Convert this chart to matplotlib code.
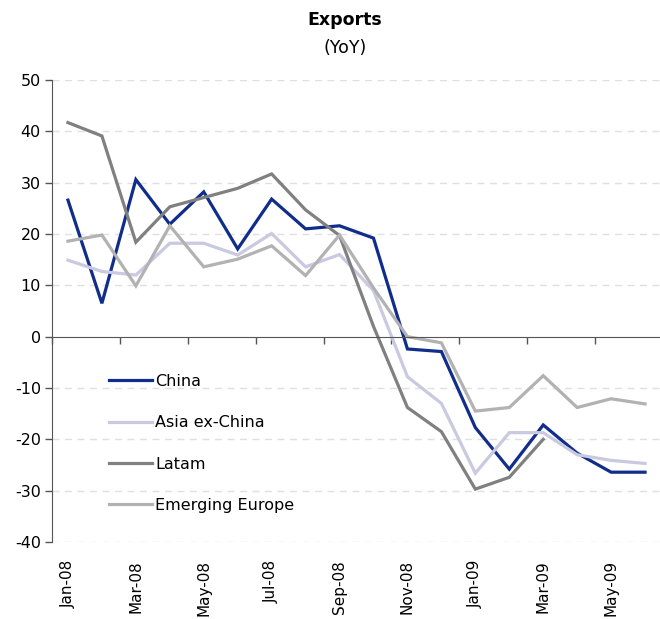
import numpy as np
import matplotlib
matplotlib.use("Agg")
import matplotlib.pyplot as plt

months = ["Jan-08", "Feb-08", "Mar-08", "Apr-08", "May-08", "Jun-08",
          "Jul-08", "Aug-08", "Sep-08", "Oct-08", "Nov-08", "Dec-08",
          "Jan-09", "Feb-09", "Mar-09", "Apr-09", "May-09", "Jun-09"]

china = [26.6, 6.5, 30.6, 21.9, 28.2, 17.1, 26.8, 21.0, 21.6, 19.2,
         -2.4, -2.9, -17.7, -25.8, -17.2, -22.7, -26.4, -26.4]
asia_ex_china = [14.9, 12.7, 12.0, 18.2, 18.2, 15.9, 20.1, 13.6, 16.0, 9.0,
                 -7.8, -13.0, -26.6, -18.7, -18.7, -23.0, -24.1, -24.7]
latam = [41.7, 39.1, 18.4, 25.3, 27.1, 28.9, 31.7, 24.7, 19.7, 2.0,
         -13.8, -18.5, -29.7, -27.4, -20.0, np.nan, np.nan, np.nan]
emerging_europe = [18.6, 19.8, 9.9, 21.6, 13.6, 15.1, 17.7, 11.9, 19.8, 9.5,
                   0.0, -1.2, -14.5, -13.8, -7.6, -13.8, -12.1, -13.1]

series = [
    ("China", china, "#112d8c"),
    ("Asia ex-China", asia_ex_china, "#c9c9e1"),
    ("Latam", latam, "#808080"),
    ("Emerging Europe", emerging_europe, "#b2b2b2"),
]

plt.rcParams["font.family"] = ["DejaVu Sans"]
plt.rcParams["axes.unicode_minus"] = False

W, H = 660, 619
fig = plt.figure(figsize=(W / 100, H / 100), dpi=100)
# axes box in pixels: left 52, right 660, top 80, bottom 542
ax = fig.add_axes([52 / W, (H - 542) / H, (660 - 52) / W, (542 - 80) / H])

x = np.arange(len(months))
for name, vals, color in series:
    ax.plot(x, vals, color=color, lw=2.3, label=name, solid_joinstyle="miter")

ax.set_xlim(-0.47, 17.44)
ax.set_ylim(-40, 50)
ax.set_yticks(np.arange(-40, 51, 10))
ax.tick_params(axis="y", direction="out", length=5, width=1, color="#555555",
               labelsize=11.5, pad=3)
for v in np.arange(-40, 51, 10):
    if v != 0:
        ax.axhline(v, color="#e0e0e0", lw=1, dashes=(5, 4), zorder=0)

for s in ["top", "right"]:
    ax.spines[s].set_visible(False)
ax.spines["left"].set_color("#555555")
ax.spines["bottom"].set_position(("data", 0))
ax.spines["bottom"].set_color("#555555")
ax.set_xticks(np.arange(-0.47, 17.5, 2))
ax.set_xticklabels([])
ax.tick_params(axis="x", direction="out", length=5, width=1, color="#555555")

sec = ax.secondary_xaxis("bottom")
sec.set_xticks(x[::2])
sec.set_xticklabels(months[::2], rotation=90, fontsize=11)
sec.tick_params(length=0, pad=13)
sec.spines["bottom"].set_visible(False)

fig.text(345 / W, 1 - 20 / H, "Exports", ha="center", va="center",
         fontsize=12.5, fontweight="bold")
fig.text(345 / W, 1 - 48 / H, "(YoY)", ha="center", va="center", fontsize=12.5)

ax.legend(loc="upper left", bbox_to_anchor=(109 / W, 1 - 374 / H),
          bbox_transform=fig.transFigure, frameon=False, fontsize=11.5,
          handlelength=2.7, handletextpad=0.2, labelspacing=1.65,
          borderpad=0, borderaxespad=0)

fig.savefig("out.png", dpi=100)
